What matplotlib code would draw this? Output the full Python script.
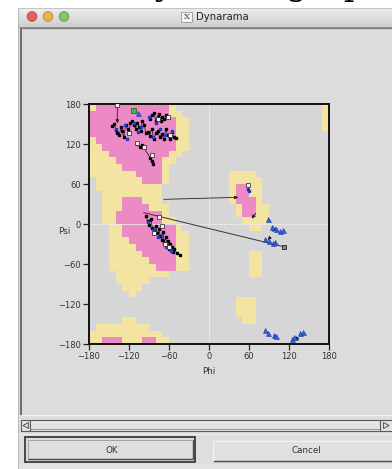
import matplotlib
matplotlib.use('Agg')
import matplotlib.pyplot as plt
import numpy as np
from matplotlib.colors import ListedColormap
from matplotlib.patches import Rectangle, Circle, Polygon

# ---------------- data ----------------
phi_ticks = [-180, -120, -60, 0, 60, 120, 180]
psi_ticks = [-180, -120, -60, 0, 60, 120, 180]

# region runs: (psi band top, phi from, phi to) on a 10 degree grid
favoured_runs = [
    (180, -170, -60), (170, -180, -60), (160, -180, -50), (150, -180, -50),
    (140, -180, -50), (130, -170, -50), (120, -160, -50), (110, -150, -60),
    (100, -140, -70), (90, -130, -70), (80, -110, -70), (70, -100, -70),
    (60, 40, 60), (50, 40, 60), (40, -130, -100), (40, 40, 70),
    (30, -130, -90), (30, 50, 70), (20, -140, -70), (20, 50, 70),
    (10, -140, -70), (0, -130, -50), (-10, -130, -50), (-20, -120, -50),
    (-30, -110, -50), (-40, -100, -50), (-50, -90, -50), (-60, -80, -50),
    (-170, -160, -130), (-170, -100, -80),
]
allowed_runs = [
    (180, -180, -170), (180, -60, -50), (180, 170, 180),
    (170, -60, -40), (170, 170, 180),
    (160, -50, -30), (160, 170, 180),
    (150, -50, -30), (150, 170, 180),
    (140, -50, -30),
    (130, -180, -170), (130, -50, -30),
    (120, -180, -160), (120, -50, -30),
    (110, -180, -150), (110, -60, -40),
    (100, -180, -140), (100, -70, -50),
    (90, -180, -130), (90, -70, -60),
    (80, -180, -110), (80, -70, -60), (80, 30, 70),
    (70, -170, -100), (70, -70, -60), (70, 30, 80),
    (60, -170, -70), (60, 30, 40), (60, 60, 80),
    (50, -160, -70), (50, 30, 40), (50, 60, 80),
    (40, -160, -130), (40, -100, -70), (40, 30, 40), (40, 70, 80),
    (30, -160, -130), (30, -90, -60), (30, 40, 50), (30, 70, 90),
    (20, -160, -140), (20, -70, -60), (20, 40, 50), (20, 70, 90),
    (10, -160, -140), (10, -70, -50), (10, 50, 90),
    (0, -150, -130), (0, -50, -40), (0, 60, 80),
    (-10, -150, -130), (-10, -50, -30),
    (-20, -150, -120), (-20, -50, -30),
    (-30, -150, -110), (-30, -50, -30),
    (-40, -150, -100), (-40, -50, -30), (-40, 60, 80),
    (-50, -150, -90), (-50, -50, -30), (-50, 60, 80),
    (-60, -150, -80), (-60, -50, -30), (-60, 60, 80),
    (-70, -140, -60), (-70, 60, 80),
    (-80, -140, -90), (-90, -130, -100), (-100, -120, -110),
    (-110, 40, 70), (-120, 40, 70), (-130, 40, 70),
    (-140, -130, -110), (-140, 50, 70),
    (-150, -170, -90), (-160, -180, -70),
    (-170, -180, -160), (-170, -130, -100), (-170, -80, -60),
]

# residues: black points (beta cluster groups)
beta_left_phi = [-146, -142, -140, -138, -135, -132, -130, -128, -125, -122, -120, -118]
beta_left_psi = [147, 150, 141, 136, 133, 145, 139, 130, 148, 142, 136, 151]
beta_mid_phi = [-115, -112, -110, -108, -105, -102, -100, -97, -95]
beta_mid_psi = [155, 148, 143, 152, 146, 140, 155, 149, 137]
beta_up_phi = [-88, -85, -82, -80, -77, -75, -72, -70, -67, -64]
beta_up_psi = [158, 163, 166, 155, 160, 165, 154, 161, 157, 163]
beta_low_phi = [-92, -89, -86, -83, -80, -77, -74, -71, -68, -65, -62, -59, -56, -53, -50]
beta_low_psi = [138, 132, 143, 127, 136, 140, 130, 135, 128, 142, 133, 127, 138, 131, 129]
beta_odd_phi = [-108, -104, -100, -88, -86, -84]
beta_odd_psi = [120, 116, 118, 99, 94, 90]
alpha_phi = [-95, -92, -90, -87, -85, -82, -80, -78, -75, -73, -71, -69, -67, -65,
             -63, -61, -60, -58, -56, -54, -52, -48, -44]
alpha_psi = [12, 5, -2, 8, -6, -10, -3, -14, -8, -18, -24, -12, -28, -20,
             -33, -26, -38, -30, -35, -42, -37, -44, -46]
open_phi = [-137.5, -108, -98, -86, -77, -62, -120, -58, -70, -83, -66, -60, -75, 58]
open_psi = [178, 122, 116, 103, 158, 160, 137, 133, -3, -14, -30, -35, 10, 59]
blue_sq_phi = [-140, -126, -113, -102, -90, -84, -79, -73, -66, -55, -123, -106,
               -91, -83, -76, -70, -64, -57, 60]
blue_sq_psi = [143, 149, 152, 146, 160, 131, 151, 143, 133, 140, 128, 138,
               3, -8, -20, -17, -35, -40, 50]
gly_phi = [-106, 89, 94, 100, 106, 111, 84, 90, 96, 99,
           84, 88, 97, 101, 124, 128, 136, 141]
gly_psi = [166, 8, -4, -8, -11, -9, -22, -25, -28, -27,
           -159, -163, -167, -168, -172, -170, -164, -162]
green_phi = [-113.5]
green_psi = [171]

# transitions drawn as arrows
arrow_from_phi = [-68, -137.5, 59, 70, 100, 92, 134]
arrow_from_psi = [37, 178, 58, 16, -5, -20, -175]
arrow_to_phi = [44, -137.5, 59, 64, 95, 88, 130]
arrow_to_psi = [40, 151, 47, 8, -12, -24, -168]
long_from_phi = [-98]
long_from_psi = [17]
long_to_phi = [112]
long_to_psi = [-34]

# ---------------- figure ----------------
W, H = 392, 469
fig = plt.figure(figsize=(W / 100, H / 100), dpi=100)
fig.patch.set_facecolor('white')

bg = fig.add_axes([0, 0, 1, 1])
bg.axis('off')
bg.set_xlim(0, W)
bg.set_ylim(H, 0)


def rect(x0, y0, x1, y1, fc='none', ec='none', lw=0.7, z=1):
    bg.add_patch(Rectangle((x0, y0), x1 - x0, y1 - y0, facecolor=fc,
                           edgecolor=ec, linewidth=lw, zorder=z))


def hline(x0, x1, y, c, lw=0.8, z=3):
    bg.plot([x0, x1], [y, y], color=c, lw=lw, zorder=z, solid_capstyle='butt')


def vline(x, y0, y1, c, lw=0.8, z=3):
    bg.plot([x, x], [y0, y1], color=c, lw=lw, zorder=z, solid_capstyle='butt')


# page heading (only its lowest part shows above the window)
fig.text(128 / W, 1 - 2.0 / H, 'Dynamic graphs', fontsize=24,
         family='DejaVu Serif', ha='left', va='bottom', color='black',
         zorder=0)

# window body
rect(18, 8, 400, 475, fc='#dedede', z=1)
# title bar gradient
grad = np.linspace(0.93, 0.81, 40)[:, None]
bg.imshow(grad, extent=(18, 400, 27, 8), cmap='gray', vmin=0, vmax=1,
          aspect='auto', zorder=2, interpolation='bilinear')
hline(18, 400, 27.5, '#9a9a9a', lw=0.8)
hline(18, 400, 8.3, '#bdbdbd', lw=0.6)
vline(18.3, 8, 469, '#b0b0b0', lw=0.6)
for cx, col, ec in [(32, '#e4625c', '#b24440'), (48, '#e9b24a', '#b5862d'),
                    (64, '#84c56a', '#5a9a44')]:
    bg.add_patch(Circle((cx, 16.5), 4.8, facecolor=col, edgecolor=ec,
                        linewidth=0.6, zorder=4))
rect(181, 12, 192, 22, fc='#f4f4f4', ec='#888888', lw=0.5, z=4)
bg.text(186.5, 17.2, 'X', fontsize=6, family='DejaVu Serif', ha='center',
        va='center', color='#333333', zorder=5)
bg.text(196, 17, 'Dynarama', fontsize=7.3, ha='left', va='center',
        color='#222222', zorder=5)

# content panel
rect(21, 28, 400, 415, fc='#dcdcdc', z=2)
vline(21, 28, 415, '#5a5a5a', lw=1.2)
hline(21, 400, 28.5, '#7a7a7a', lw=0.9)
hline(21, 400, 415.5, '#f2f2f2', lw=0.9)

# scrollbar
rect(21, 420, 400, 431, fc='#e2e2e2', ec='#5a5a5a', lw=0.8, z=3)
hline(30, 380, 422, '#f5f5f5', lw=0.6, z=4)
hline(30, 380, 429, '#8a8a8a', lw=0.6, z=4)
vline(30, 420, 431, '#5a5a5a', lw=0.8, z=4)
vline(380, 420, 431, '#5a5a5a', lw=0.8, z=4)
bg.add_patch(Polygon([[23, 425.5], [28.5, 422.5], [28.5, 428.5]], closed=True,
                     facecolor='#dcdcdc', edgecolor='#444444', lw=0.6, zorder=5))
bg.add_patch(Polygon([[389, 425.5], [383.5, 422.5], [383.5, 428.5]], closed=True,
                     facecolor='#dcdcdc', edgecolor='#444444', lw=0.6, zorder=5))
hline(18, 400, 434, '#f0f0f0', lw=0.6)

# buttons
rect(25, 437.5, 195, 462, fc='#dcdcdc', ec='#3c3c3c', lw=1.3, z=3)
rect(28, 440.5, 193, 459, fc='#dedede', ec='#9a9a9a', lw=0.6, z=4)
hline(28, 193, 459.3, '#4a4a4a', lw=1.0, z=5)
vline(193, 440.5, 459.5, '#4a4a4a', lw=1.0, z=5)
bg.text(112, 450.5, 'OK', fontsize=6.3, ha='center', va='center',
        color='#333333', zorder=6)
rect(213, 440.5, 400, 461, fc='#e0e0e0', ec='none', z=3)
hline(213, 400, 440.8, '#f4f4f4', lw=0.8, z=4)
hline(213, 400, 460.8, '#4a4a4a', lw=1.0, z=4)
vline(213, 440.5, 461, '#f4f4f4', lw=0.8, z=4)
bg.text(306, 450.5, 'Cancel', fontsize=6.3, ha='center', va='center',
        color='#333333', zorder=6)
rect(18, 464, 400, 475, fc='#e3e3e3', z=2)

# axis titles (placed in window pixels)
bg.text(208.5, 371.5, 'Phi', fontsize=6.3, ha='center', va='center',
        color='#333333', zorder=6)
bg.text(64, 231.5, 'Psi', fontsize=6.3, ha='center', va='center',
        color='#333333', zorder=6)

bg.set_xlim(0, W)
bg.set_ylim(H, 0)

# ---------------- Ramachandran axes ----------------
ax = fig.add_axes([89 / W, (H - 344) / H, 240 / W, 240 / H])
ax.set_zorder(5)

grid = np.zeros((36, 36), dtype=int)
for level, runs in ((1, allowed_runs), (2, favoured_runs)):
    for top, p0, p1 in runs:
        r = (180 - top) // 10
        grid[r, (p0 + 180) // 10:(p1 + 180) // 10] = level

cmap = ListedColormap(['#d6d6d6', '#f4e4a2', '#ec8ac6'])
ax.imshow(grid, extent=(-180, 180, -180, 180), origin='upper', cmap=cmap,
          vmin=0, vmax=2, interpolation='nearest', aspect='auto', zorder=1)
ax.axhline(0, color='#ececec', lw=0.7, alpha=0.8, zorder=2)
ax.axvline(0, color='#ececec', lw=0.7, alpha=0.8, zorder=2)

# transitions
for x0, y0, x1, y1 in zip(arrow_from_phi, arrow_from_psi, arrow_to_phi, arrow_to_psi):
    ax.annotate('', xy=(x1, y1), xytext=(x0, y0),
                arrowprops=dict(arrowstyle='-|>', color='#222222', lw=0.6,
                                mutation_scale=5, shrinkA=0, shrinkB=0), zorder=4)
for x0, y0, x1, y1 in zip(long_from_phi, long_from_psi, long_to_phi, long_to_psi):
    ax.plot([x0, x1], [y0, y1], color='#333333', lw=0.7, zorder=4)
    ax.plot([x1], [y1], marker='s', ms=2.4, mfc='#888888', mec='#222222',
            mew=0.6, zorder=6)

for xs, ys in [(beta_left_phi, beta_left_psi), (beta_mid_phi, beta_mid_psi),
               (beta_up_phi, beta_up_psi), (beta_low_phi, beta_low_psi),
               (beta_odd_phi, beta_odd_psi), (alpha_phi, alpha_psi)]:
    ax.plot(xs, ys, color='black', lw=0.45, zorder=4)
    ax.plot(xs, ys, ls='none', marker='s', ms=1.8, color='black', zorder=5)

ax.plot(blue_sq_phi, blue_sq_psi, ls='none', marker='s', ms=1.8,
        color='#1c3cc8', zorder=6)
ax.plot(open_phi, open_psi, ls='none', marker='s', ms=2.3, mfc='#f0f0f0',
        mec='#222222', mew=0.5, zorder=6)
ax.plot(gly_phi, gly_psi, ls='none', marker='^', ms=3.6, mfc='#2a5ff0',
        mec='#1a3aa0', mew=0.4, zorder=6)
ax.plot(green_phi, green_psi, ls='none', marker='s', ms=3.6, mfc='#3fbf3f',
        mec='#1a5a1a', mew=0.5, zorder=6)

ax.set_xlim(-180, 180)
ax.set_ylim(-180, 180)
ax.set_xticks(phi_ticks)
ax.set_yticks(psi_ticks)
ax.tick_params(direction='out', length=4, width=0.9, color='#222222',
               labelsize=6, labelcolor='#333333', pad=2)
for s in ax.spines.values():
    s.set_linewidth(1.4)
    s.set_color('#111111')

fig.savefig('out.png', dpi=100)
